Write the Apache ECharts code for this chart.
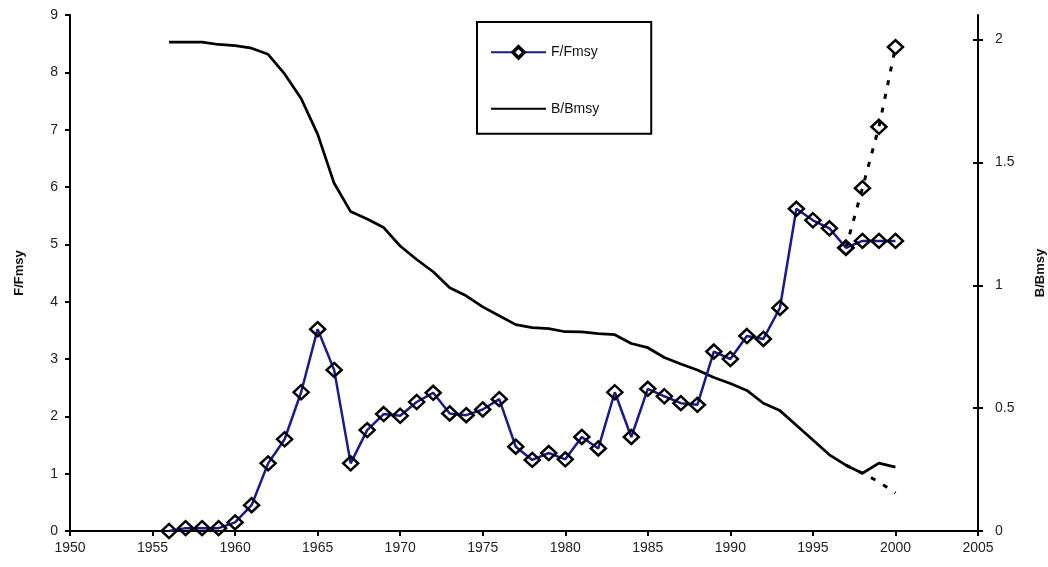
<!DOCTYPE html>
<html>
<head>
<meta charset="utf-8">
<title>F/Fmsy and B/Bmsy</title>
<script src="https://cdn.jsdelivr.net/npm/echarts@6/dist/echarts.min.js"></script>
<style>
  html, body { margin: 0; padding: 0; background: #fff; }
  #chart { width: 1048px; height: 567px; }
</style>
</head>
<body>
<div id="chart"></div>
<script>
// Assessment years
const years = [1956, 1957, 1958, 1959, 1960, 1961, 1962, 1963, 1964, 1965,
               1966, 1967, 1968, 1969, 1970, 1971, 1972, 1973, 1974, 1975,
               1976, 1977, 1978, 1979, 1980, 1981, 1982, 1983, 1984, 1985,
               1986, 1987, 1988, 1989, 1990, 1991, 1992, 1993, 1994, 1995,
               1996, 1997, 1998, 1999, 2000];

// Fishing mortality relative to Fmsy (left axis)
const fFmsy = [0.00, 0.05, 0.05, 0.05, 0.15, 0.45, 1.18, 1.60, 2.42, 3.52,
               2.81, 1.18, 1.76, 2.04, 2.01, 2.25, 2.41, 2.05, 2.02, 2.12,
               2.30, 1.47, 1.24, 1.36, 1.25, 1.64, 1.44, 2.42, 1.64, 2.48,
               2.35, 2.23, 2.20, 3.13, 3.00, 3.40, 3.35, 3.89, 5.62, 5.42,
               5.28, 4.94, 5.06, 5.06, 5.06];

// Biomass relative to Bmsy (right axis)
const bBmsy = [1.99, 1.99, 1.99, 1.98, 1.975, 1.965, 1.94, 1.86, 1.76, 1.615,
               1.415, 1.30, 1.27, 1.235, 1.16, 1.105, 1.055, 0.99, 0.957, 0.912,
               0.876, 0.84, 0.828, 0.824, 0.811, 0.81, 0.803, 0.799, 0.763, 0.746,
               0.706, 0.68, 0.655, 0.625, 0.60, 0.572, 0.52, 0.49, 0.43, 0.37,
               0.31, 0.268, 0.235, 0.276, 0.26];

// Alternative trajectory for the final years (dotted)
const projYears = [1997, 1998, 1999, 2000];
const fProj = [4.94, 5.98, 7.05, 8.44];
const bProj = [0.268, 0.235, 0.20, 0.155];

// Axis tick values
const bTicks = [0, 0.5, 1, 1.5, 2];

const pairs = (xs, ys) => xs.map((x, i) => [x, ys[i]]);

const FONT = "'Liberation Sans', Arial, sans-serif";
const axisLineStyle = { color: '#000', width: 2 };
const labelStyle = { color: '#222', fontSize: 14, fontFamily: FONT };

const chart = echarts.init(document.getElementById('chart'), null, { renderer: 'canvas' });

chart.setOption({
  animation: false,
  backgroundColor: '#fff',
  grid: { left: 70, right: 70, top: 15, bottom: 36, containLabel: false, outerBoundsMode: 'none' },
  legend: {
    data: [
      { name: 'F/Fmsy', itemStyle: { color: '#fff', borderColor: '#000', borderWidth: 3.5 } },
      'B/Bmsy'
    ],
    orient: 'vertical',
    left: 477,
    top: 22,
    padding: [23, 52, 18, 13],
    itemWidth: 55,
    itemHeight: 14,
    itemGap: 42,
    borderColor: '#000',
    borderWidth: 2,
    textStyle: { color: '#111', fontSize: 14, fontFamily: FONT },
    selectedMode: false
  },
  xAxis: {
    type: 'value',
    min: 1950,
    max: 2005,
    interval: 5,
    axisLine: { show: true, onZero: false, lineStyle: axisLineStyle },
    axisTick: { show: true, length: 5, lineStyle: axisLineStyle },
    axisLabel: Object.assign({ margin: 10, formatter: v => String(v) }, labelStyle),
    splitLine: { show: false }
  },
  yAxis: [
    {
      type: 'value',
      position: 'left',
      min: 0,
      max: 9,
      interval: 1,
      name: 'F/Fmsy',
      nameLocation: 'middle',
      nameRotate: 90,
      nameGap: 44,
      nameTextStyle: { color: '#111', fontSize: 13, fontWeight: 'bold', fontFamily: FONT },
      axisLine: { show: true, onZero: false, lineStyle: axisLineStyle },
      axisTick: { show: true, length: 5, lineStyle: axisLineStyle },
      axisLabel: Object.assign({ margin: 12 }, labelStyle),
      splitLine: { show: false }
    },
    {
      type: 'value',
      position: 'right',
      min: 0,
      max: 2.1,
      interval: 0.5,
      name: 'B/Bmsy',
      nameLocation: 'middle',
      nameRotate: 90,
      nameGap: 56,
      nameTextStyle: { color: '#111', fontSize: 13, fontWeight: 'bold', fontFamily: FONT },
      axisLine: { show: true, onZero: false, lineStyle: axisLineStyle },
      axisTick: { show: true, length: 5, lineStyle: axisLineStyle, customValues: bTicks },
      axisLabel: Object.assign({ margin: 17, customValues: bTicks }, labelStyle),
      splitLine: { show: false }
    },
    {
      // inner half of the crossing ticks on the right-hand axis
      type: 'value',
      position: 'right',
      min: 0,
      max: 2.1,
      interval: 0.5,
      axisLine: { show: false },
      axisTick: { show: true, inside: true, length: 5, lineStyle: axisLineStyle, customValues: bTicks },
      axisLabel: { show: false },
      splitLine: { show: false }
    }
  ],
  series: [
    {
      name: 'B/Bmsy',
      type: 'line',
      yAxisIndex: 1,
      data: pairs(years, bBmsy),
      symbol: 'circle',
      showSymbol: false,
      lineStyle: { color: '#000', width: 2.75 },
      // invisible symbol so the legend shows a plain line
      itemStyle: { color: 'rgba(0,0,0,0)', borderWidth: 0 },
      z: 2
    },
    {
      name: 'B/Bmsy projection',
      type: 'line',
      yAxisIndex: 1,
      data: pairs(projYears, bProj),
      symbol: 'none',
      lineStyle: { color: '#000', width: 3, type: [5, 9] },
      z: 2
    },
    {
      name: 'F/Fmsy projection',
      type: 'line',
      yAxisIndex: 0,
      data: pairs(projYears, fProj),
      symbol: 'diamond',
      symbolSize: [15, 14],
      lineStyle: { color: '#000', width: 3, type: [5, 9] },
      itemStyle: { color: 'rgba(255,255,255,0)', borderColor: '#000', borderWidth: 2.5 },
      z: 3
    },
    {
      name: 'F/Fmsy',
      type: 'line',
      yAxisIndex: 0,
      data: pairs(years, fFmsy),
      symbol: 'diamond',
      symbolSize: [15, 14],
      lineStyle: { color: '#1a1a8a', width: 2.5 },
      itemStyle: { color: 'rgba(255,255,255,0)', borderColor: '#000', borderWidth: 2.5 },
      z: 4
    }
  ]
});
</script>
</body>
</html>
